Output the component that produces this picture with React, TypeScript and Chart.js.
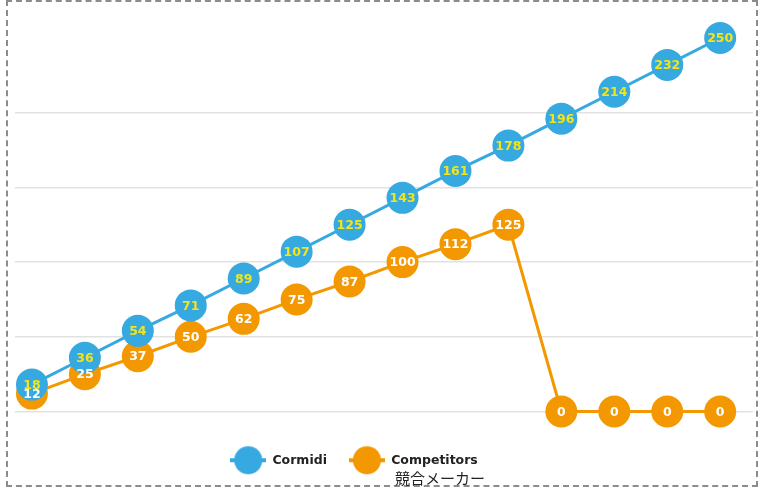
import { useEffect, useRef } from "react";
import { Chart, registerables } from "chart.js";

Chart.register(...registerables);

const categories = ["1", "2", "3", "4", "5", "6", "7", "8", "9", "10", "11", "12", "13", "14"];
const seriesNames = ["Cormidi", "Competitors"];
const cormidiValues = [18, 36, 54, 71, 89, 107, 125, 143, 161, 178, 196, 214, 232, 250];
const competitorValues = [12, 25, 37, 50, 62, 75, 87, 100, 112, 125, 0, 0, 0, 0];
const yMin = 0;
const yMax = 250;
const yStep = 50;
const caption = "競合メーカー";

const BLUE = "#37a9e1";
const ORANGE = "#f39800";
const LABEL_COLORS = ["#f2e51a", "#ffffff"];

function makeMarker(color: string): HTMLCanvasElement {
  const c = document.createElement("canvas");
  c.width = 36;
  c.height = 30;
  const g = c.getContext("2d")!;
  g.strokeStyle = color;
  g.lineWidth = 4;
  g.beginPath();
  g.moveTo(0, 15);
  g.lineTo(36, 15);
  g.stroke();
  g.fillStyle = color;
  g.beginPath();
  g.arc(18, 15, 14, 0, Math.PI * 2);
  g.fill();
  return c;
}

const valueLabels = {
  id: "valueLabels",
  afterDatasetsDraw(chart: any) {
    const ctx = chart.ctx;
    ctx.save();
    ctx.font = 'bold 12.5px "DejaVu Sans"';
    ctx.textAlign = "center";
    ctx.textBaseline = "middle";
    for (let d = chart.data.datasets.length - 1; d >= 0; d--) {
      const meta = chart.getDatasetMeta(d);
      const ds = chart.data.datasets[d];
      ctx.fillStyle = LABEL_COLORS[d];
      meta.data.forEach((pt: any, i: number) => {
        const v = ds.data[i].y;
        ctx.fillText(String(v), pt.x, pt.y + 1);
      });
    }
    ctx.restore();
  },
};

const legendShift = {
  id: "legendShift",
  afterLayout(chart: any) {
    if (chart.legend) {
      chart.legend.right -= 60;
    }
  },
};

export default function App() {
  const ref = useRef<HTMLCanvasElement>(null);
  useEffect(() => {
    const markers = [makeMarker(BLUE), makeMarker(ORANGE)];
    const chart = new Chart(ref.current!, {
      type: "line",
      data: {
        labels: categories,
        datasets: [
          {
            label: seriesNames[0],
            data: cormidiValues.map((v, i) => ({ x: i, y: v })),
            borderColor: BLUE,
            backgroundColor: BLUE,
            borderWidth: 3,
            pointRadius: 16,
            pointBorderWidth: 0,
            pointBackgroundColor: BLUE,
            clip: false,
          } as any,
          {
            label: seriesNames[1],
            data: competitorValues.map((v, i) => ({ x: i, y: v })),
            borderColor: ORANGE,
            backgroundColor: ORANGE,
            borderWidth: 3,
            pointRadius: 16,
            pointBorderWidth: 0,
            pointBackgroundColor: ORANGE,
            clip: false,
          } as any,
        ],
      },
      options: {
        animation: false,
        responsive: true,
        maintainAspectRatio: false,
        layout: { autoPadding: false, padding: { left: 15, right: 7, top: 38, bottom: 11.5 } },
        scales: {
          x: {
            type: "linear",
            min: -0.32,
            max: categories.length - 1 + 0.62,
            display: true,
            ticks: { display: false },
            grid: { display: false },
            border: { display: false },
            afterFit: (scale: any) => {
              scale.height = 20.5;
            },
          },
          y: {
            min: yMin,
            max: yMax,
            ticks: { display: false, stepSize: yStep },
            border: { display: false },
            grid: {
              drawTicks: false,
              lineWidth: 1.5,
              color: (c: any) => (c.tick && c.tick.value === yMax ? "rgba(0,0,0,0)" : "#e2e2e2"),
            },
          },
        },
        plugins: {
          tooltip: { enabled: false },
          legend: {
            position: "bottom",
            labels: {
              usePointStyle: true,
              pointStyleWidth: 36,
              padding: 22,
              color: "#222",
              font: { family: '"DejaVu Sans"', size: 12.5, weight: "bold" },
              generateLabels: (ch: any) => {
                const items = Chart.defaults.plugins.legend.labels.generateLabels(ch);
                items.forEach((it: any, i: number) => {
                  it.pointStyle = markers[i];
                });
                return items;
              },
            },
          },
        },
      },
      plugins: [valueLabels, legendShift],
    });
    return () => chart.destroy();
  }, []);

  return (
    <div style={{ position: "absolute", left: 0, top: 0, width: 760, height: 488, background: "#fff" }}>
      <canvas ref={ref} />
      <div
        style={{
          position: "absolute",
          left: 6,
          top: 0,
          width: 752,
          height: 487,
          border: "2px dashed #8c8c8c",
          boxSizing: "border-box",
          pointerEvents: "none",
        }}
      />
      <div
        style={{
          position: "absolute",
          left: 395,
          top: 468,
          fontFamily: '"Noto Sans CJK JP", sans-serif',
          fontSize: 15,
          lineHeight: "20px",
          color: "#222",
          whiteSpace: "nowrap",
        }}
      >
        {caption}
      </div>
    </div>
  );
}
